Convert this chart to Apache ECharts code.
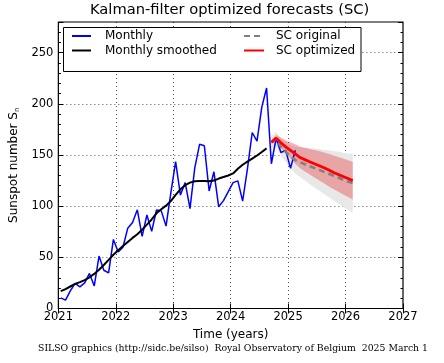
<!DOCTYPE html>
<html><head><meta charset="utf-8">
<script src="https://cdn.jsdelivr.net/npm/echarts@6/dist/echarts.min.js"></script>
<style>html,body{margin:0;padding:0;background:#fff}#c{width:444px;height:363px}</style>
</head><body><div id="c"></div>
<script>
// ---- data ----
const monthlyStart = '2021-01';
const monthlyValues = [
  10.4, 8.2, 17.2, 24.5, 21.2, 25.0, 34.3, 22.0, 51.3, 37.4, 34.8, 67.5,
  55.3, 59.9, 78.5, 84.1, 96.5, 70.5, 91.4, 75.4, 96.3, 95.4, 80.5, 113.1,
  143.6, 110.9, 123.0, 97.6, 137.4, 160.5, 159.1, 114.8, 133.6, 99.4, 105.4, 114.2,
  123.0, 124.7, 104.9, 136.5, 172.0, 163.6, 196.8, 215.5, 141.4, 166.4, 152.5, 154.5,
  137.0, 154.6
];
const smoothedStart = '2021-01';
const smoothedValues = [
  17.0, 19.0, 21.5, 24.0, 25.8, 27.8, 30.5, 33.8, 37.8, 42.5, 47.5, 52.5,
  57.0, 61.0, 65.0, 69.0, 72.5, 77.0, 82.0, 87.0, 93.0, 97.0, 100.5, 105.0,
  111.0, 116.5, 120.5, 123.0, 124.3, 124.7, 124.5, 124.3, 125.0, 127.0, 128.5, 130.0,
  132.0, 136.5, 140.5, 143.5, 146.5, 149.5, 153.0, 156.5
];
const forecastStart = '2024-09';
const scOriginal = [162.5, 165.5, 158.0, 153.0, 148.5, 145.0, 143.0, 141.0, 139.0, 137.3, 135.5, 133.5, 131.7, 129.8, 128.0, 125.8, 124.0, 122.5];
const scOriginalSpread = [6, 7, 8.5, 10, 11.5, 13, 14.5, 16, 17.5, 19, 20.5, 21.5, 23, 24, 25.5, 26.5, 27.5, 29];
const scOptimized = [162.5, 166.5, 162.0, 158.0, 154.5, 151.0, 147.5, 145.5, 143.5, 141.5, 139.5, 137.5, 135.3, 133.0, 131.0, 129.0, 127.0, 125.0];
const scOptimizedSpread = [2, 3, 5, 6.5, 8, 9.5, 10.5, 11.5, 12.5, 13.5, 14.5, 15, 16, 16.5, 17, 17.5, 18, 18.5];
const xTickYears = [2021, 2022, 2023, 2024, 2025, 2026, 2027];
const yTickLabels = [0, 50, 100, 150, 200, 250];

// ---- helpers ----
function monthTime(start, i) {
  const p = start.split('-').map(Number);
  return p[0] + (p[1] - 1 + i + 0.5) / 12;
}
function pairs(start, vals) { return vals.map((v, i) => [monthTime(start, i), v]); }
function bandData(center, spread) {
  return center.map((v, i) => [monthTime(forecastStart, i), v - spread[i], v + spread[i]]);
}
function bandSeries(name, rows, fill) {
  return {
    name: name, type: 'custom', data: rows, clip: true, silent: true, z: 1,
    encode: {x: 0, y: [1, 2]},
    renderItem: function (params, api) {
      if (params.dataIndex !== 0) return null;
      const top = rows.map(r => api.coord([r[0], r[2]]));
      const bot = rows.map(r => api.coord([r[0], r[1]])).reverse();
      return {type: 'polygon', shape: {points: top.concat(bot)}, style: {fill: fill}};
    }
  };
}

const FONT = 'DejaVu Sans';
const chart = echarts.init(document.getElementById('c'), null, {renderer: 'canvas'});

const tickStyle = {lineStyle: {color: '#000', width: 1}};
const baseY = {type: 'value', min: 0, max: 280, axisLine: {show: false}, splitLine: {show: false}, axisLabel: {show: false}};
const gridLine = {show: true, showMinLine: false, showMaxLine: false, lineStyle: {color: '#000', type: [1, 3], width: 0.7}};
const legendCommon = {orient: 'vertical', top: 30, padding: 0, itemHeight: 12, itemGap: 2.5,
  selectedMode: false, z: 20, itemStyle: {opacity: 0}};

const option = {
  animation: false,
  backgroundColor: '#fff',
  title: {
    text: 'Kalman-filter optimized forecasts (SC)',
    left: 90, top: 3, padding: 0,
    textStyle: {fontFamily: FONT, fontSize: 14.7, fontWeight: 'normal', color: '#000'}
  },
  grid: {left: 58, right: 41, top: 22, bottom: 54.5, show: true, borderColor: '#000', borderWidth: 1.2, backgroundColor: 'transparent', containLabel: false},
  legend: [
    Object.assign({}, legendCommon, {data: ['Monthly', 'Monthly smoothed'], left: 71, itemWidth: 19,
     textStyle: {fontFamily: FONT, fontSize: 12, color: '#000', padding: [0, 0, 0, 9]}}),
    Object.assign({}, legendCommon, {data: ['SC original', 'SC optimized'], left: 243, itemWidth: 20,
     textStyle: {fontFamily: FONT, fontSize: 12, color: '#000', padding: [0, 0, 0, 7]}})
  ],
  xAxis: [
    {type: 'value', min: 2021, max: 2027, interval: 1, position: 'bottom',
     axisLine: {show: false},
     axisTick: Object.assign({inside: true, length: 5}, tickStyle),
     axisLabel: {color: '#000', fontFamily: FONT, fontSize: 11.5, margin: 3,
       formatter: v => xTickYears.includes(v) ? String(v) : ''},
     splitLine: gridLine,
     name: 'Time (years)', nameLocation: 'middle', nameGap: 19,
     nameTextStyle: {fontFamily: FONT, fontSize: 12, color: '#000'}},
    {type: 'value', min: 2021, max: 2027, interval: 1, position: 'top',
     axisLine: {show: false}, axisLabel: {show: false}, splitLine: {show: false},
     axisTick: Object.assign({inside: true, length: 5}, tickStyle)}
  ],
  yAxis: [
    Object.assign({}, baseY, {interval: 50, position: 'left',
     axisTick: Object.assign({inside: true, length: 5}, tickStyle),
     axisLabel: {show: true, color: '#000', fontFamily: FONT, fontSize: 11.5, margin: 5,
       formatter: v => yTickLabels.includes(v) ? String(v) : ''},
     splitLine: gridLine,
     name: 'Sunspot number S{sub|n}', nameLocation: 'middle', nameGap: 27, nameRotate: 90,
     nameTextStyle: {fontFamily: FONT, fontSize: 12, color: '#000',
       rich: {sub: {fontFamily: FONT, fontSize: 7, color: '#000', verticalAlign: 'bottom', padding: [6, 0, 0, 0]}}}}),
    Object.assign({}, baseY, {interval: 50, position: 'right',
     axisTick: Object.assign({inside: true, length: 5}, tickStyle)}),
    Object.assign({}, baseY, {interval: 10, position: 'left',
     axisTick: Object.assign({inside: true, length: 2.5}, tickStyle)}),
    Object.assign({}, baseY, {interval: 10, position: 'right',
     axisTick: Object.assign({inside: true, length: 2.5}, tickStyle)})
  ],
  graphic: [
    {type: 'rect', z: 15, shape: {x: 63.5, y: 27.5, width: 297.5, height: 44},
     style: {fill: '#fff', stroke: '#000', lineWidth: 1}},
    {type: 'text', z: 15, x: 233, y: 349,
     style: {text: 'SILSO graphics (http://sidc.be/silso)  Royal Observatory of Belgium  2025 March 1',
       fontFamily: 'DejaVu Serif', fontSize: 9.3, fill: '#000', align: 'center', verticalAlign: 'middle'}}
  ],
  series: [
    bandSeries('greyBand', bandData(scOriginal, scOriginalSpread), '#e8e8e8'),
    bandSeries('redBand', bandData(scOptimized, scOptimizedSpread), 'rgba(232,30,30,0.33)'),
    {name: 'Monthly', type: 'line', data: pairs(monthlyStart, monthlyValues), symbol: 'none',
     color: '#0000ff', lineStyle: {color: '#0000ff', width: 1.5}, z: 3},
    {name: 'Monthly smoothed', type: 'line', data: pairs(smoothedStart, smoothedValues), symbol: 'none',
     color: '#000', lineStyle: {color: '#000', width: 2}, z: 4},
    {name: 'SC original', type: 'line', data: pairs(forecastStart, scOriginal), symbol: 'none',
     color: '#808080', lineStyle: {color: '#808080', width: 2.6, type: [6, 4]}, z: 4},
    {name: 'SC optimized', type: 'line', data: pairs(forecastStart, scOptimized), symbol: 'none',
     color: '#ff0000', lineStyle: {color: '#ff0000', width: 2.8}, z: 5}
  ]
};
chart.setOption(option);
</script>
</body></html>
